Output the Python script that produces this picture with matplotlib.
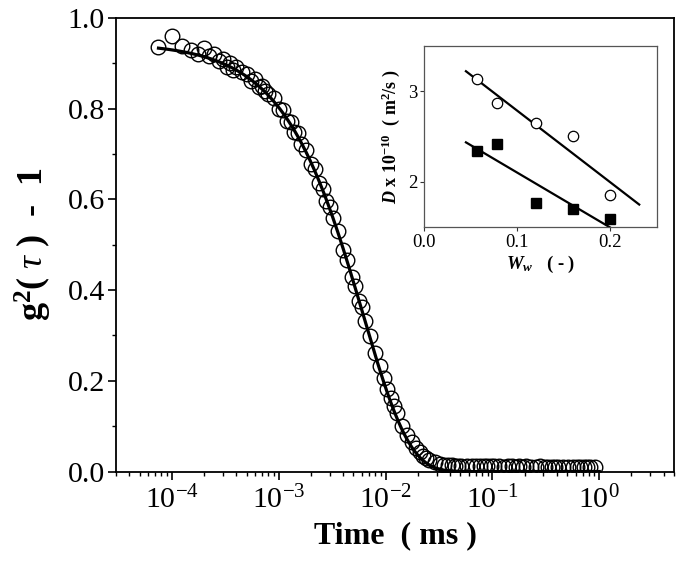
import numpy as np
import matplotlib
matplotlib.use("Agg")
import matplotlib.pyplot as plt
from matplotlib.ticker import LogLocator, LogFormatterMathtext, MultipleLocator, NullFormatter

plt.rcParams['font.family'] = ['Liberation Serif', 'DejaVu Serif']
plt.rcParams['mathtext.fontset'] = 'custom'
plt.rcParams['mathtext.rm'] = 'Liberation Serif'
plt.rcParams['mathtext.it'] = 'Liberation Serif:italic'
plt.rcParams['mathtext.bf'] = 'Liberation Serif:bold'
plt.rcParams['mathtext.bfit'] = 'Liberation Serif:italic:bold'

# ---------------- main data: correlation function ----------------
dt_ms = 2.5e-5
lag_channels = [3, 4, 5, 6, 7, 8, 9, 10, 11, 12, 13, 14, 15, 16,
                18, 20, 22, 24, 26, 28, 30, 32,
                36, 40, 44, 48, 52, 56, 60, 64,
                72, 80, 88, 96, 104, 112, 120, 128,
                144, 160, 176, 192, 208, 224, 240, 256,
                288, 320, 352, 384, 416, 448, 480, 512,
                576, 640, 704, 768, 832, 896, 960, 1024,
                1152, 1280, 1408, 1536, 1664, 1792, 1920, 2048,
                2304, 2560, 2816, 3072, 3328, 3584, 3840, 4096,
                4608, 5120, 5632, 6144, 6656, 7168, 7680, 8192,
                9216, 10240, 11264, 12288, 13312, 14336, 15360, 16384,
                18432, 20480, 22528, 24576, 26624, 28672, 30720, 32768,
                36864]
g2_minus_1 = [0.935, 0.961, 0.938, 0.930, 0.921, 0.934, 0.917, 0.920, 0.906, 0.909, 0.893, 0.901, 0.886, 0.893,
              0.880, 0.876, 0.861, 0.866, 0.848, 0.850, 0.838, 0.832,
              0.823, 0.800, 0.797, 0.772, 0.770, 0.748, 0.746, 0.722,
              0.710, 0.679, 0.667, 0.636, 0.624, 0.596, 0.584, 0.558,
              0.530, 0.489, 0.466, 0.428, 0.410, 0.376, 0.362, 0.331,
              0.298, 0.262, 0.233, 0.207, 0.183, 0.163, 0.145, 0.128,
              0.101, 0.080, 0.064, 0.052, 0.042, 0.035, 0.029, 0.025,
              0.020, 0.017, 0.015, 0.014, 0.014, 0.013, 0.013, 0.013,
              0.013, 0.012, 0.013, 0.012, 0.012, 0.013, 0.012, 0.012,
              0.012, 0.011, 0.012, 0.012, 0.011, 0.012, 0.011, 0.012,
              0.011, 0.011, 0.012, 0.011, 0.011, 0.011, 0.010, 0.011,
              0.011, 0.010, 0.011, 0.010, 0.010, 0.011, 0.010, 0.010,
              0.010]
time_ms = np.array(lag_channels) * dt_ms

# single-exponential fit parameters
fit_beta = 0.945
fit_two_gamma = 163.0   # 1/ms
fit_t_start = 7.5e-5
fit_t_end = 1.0

# ---------------- inset data ----------------
w_w = [0.0565, 0.078, 0.12, 0.16, 0.20]
D_open = [3.14, 2.87, 2.645, 2.51, 1.855]
D_filled = [2.335, 2.42, 1.77, 1.70, 1.585]
fit_open_range = (0.045, 0.231)
fit_filled_range = (0.045, 0.207)

# ---------------- figure ----------------
fig = plt.figure(figsize=(6.85, 5.73), dpi=100)
ax = fig.add_axes([0.1693, 0.1771, 0.8146, 0.7915])

ax.plot(time_ms, g2_minus_1, linestyle='none', marker='o', markersize=10.5,
        markerfacecolor='none', markeredgecolor='black', markeredgewidth=1.0, zorder=2)
tf = np.logspace(np.log10(fit_t_start), np.log10(fit_t_end), 500)
ax.plot(tf, fit_beta * np.exp(-fit_two_gamma * tf), color='black', lw=2.3, zorder=3)

ax.set_xscale('log')
ax.set_xlim(3e-5, 5)
ax.set_ylim(0.0, 1.0)
ax.xaxis.set_major_locator(LogLocator(base=10, numticks=20))
ax.xaxis.set_major_formatter(LogFormatterMathtext())
ax.xaxis.set_minor_locator(LogLocator(base=10, subs=np.arange(2, 10), numticks=20))
ax.xaxis.set_minor_formatter(NullFormatter())
ax.yaxis.set_major_locator(MultipleLocator(0.2))
ax.yaxis.set_minor_locator(MultipleLocator(0.1))
ax.yaxis.set_major_formatter(plt.FuncFormatter(lambda v, p: f"{v:.1f}"))

ax.tick_params(axis='both', which='major', direction='out', length=6, width=1.2,
               labelsize=21.5, top=False, right=False)
ax.tick_params(axis='both', which='minor', direction='out', length=3, width=1.0,
               top=False, right=False)
ax.tick_params(axis='x', which='major', pad=4)
ax.tick_params(axis='y', which='major', pad=2)
for s in ax.spines.values():
    s.set_linewidth(1.3)

ax.set_xlabel('Time  ( ms )', fontsize=23, fontweight='bold', labelpad=5)
ax.set_ylabel(r'$\mathbf{g}^{\mathbf{2}}$( $\tau$ )  -  1', fontsize=26, fontweight='bold', labelpad=10)

# ---------------- inset ----------------
axi = fig.add_axes([0.619, 0.6038, 0.340, 0.316])
axi.plot(w_w, D_open, linestyle='none', marker='o', markersize=7.5,
         markerfacecolor='white', markeredgecolor='black', markeredgewidth=0.9, zorder=3)
axi.plot(w_w, D_filled, linestyle='none', marker='s', markersize=7,
         markerfacecolor='black', markeredgecolor='black', zorder=3)
p_open = np.polyfit(w_w, D_open, 1)
p_fill = np.polyfit(w_w, D_filled, 1)
xo = np.linspace(*fit_open_range, 50)
xf = np.linspace(*fit_filled_range, 50)
axi.plot(xo, np.polyval(p_open, xo), color='black', lw=1.6, zorder=2)
axi.plot(xf, np.polyval(p_fill, xf), color='black', lw=1.6, zorder=2)
axi.set_xlim(0.0, 0.25)
axi.set_ylim(1.5, 3.5)
axi.set_xticks([0.0, 0.1, 0.2])
axi.set_xticklabels(['0.0', '0.1', '0.2'])
axi.set_yticks([2, 3])
axi.set_yticklabels(['2', '3'])
axi.tick_params(axis='both', direction='out', length=3, width=0.8, labelsize=13.5, pad=2,
                colors='#333333', labelcolor='black')
for s in axi.spines.values():
    s.set_linewidth(0.9)
    s.set_color('#555555')
axi.set_ylabel(r'$\mathbfit{D}$ x 10$^{\mathbf{-10}}$  ( m$^{\mathbf{2}}$/s )',
               fontsize=13, fontweight='bold', labelpad=4)
axi.set_xlabel(r'$\mathbfit{W}_{\mathbfit{w}}$   ( - )', fontsize=13.5, fontweight='bold', labelpad=2)

fig.savefig('out.png', dpi=100)
